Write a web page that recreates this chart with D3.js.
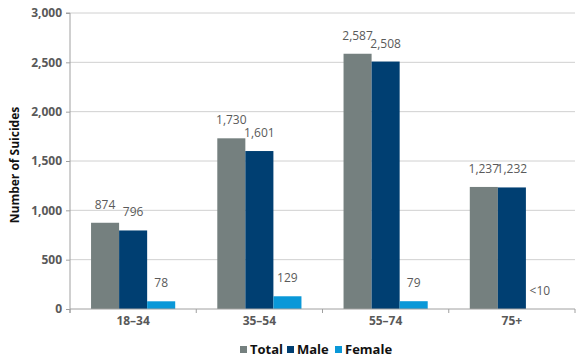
<!DOCTYPE html>
<html><head><meta charset="utf-8">
<script src="https://cdn.jsdelivr.net/npm/d3@7"></script>
<style>body{margin:0;background:#fff}svg{display:block}text{font-family:"Open Sans",sans-serif}</style>
</head><body>
<svg id="c" width="585" height="364"></svg>
<script>
const categories = ["18–34","35–54","55–74","75+"];
const seriesNames = ["Total","Male","Female"];
const totalValues = [874,1730,2587,1237];
const maleValues = [796,1601,2508,1232];
const femaleValues = [78,129,79,0];
const femaleLabels = ["78","129","79","<10"];
const yTicks = [0,500,1000,1500,2000,2500,3000];
const colors = ["#75807f","#003f72","#0a98d8"];

(function(){
const svg = d3.select("#c");
const mLeft = 70, mRight = 575, mTop = 13, mBottom = 309;
const y = d3.scaleLinear().domain([0,3000]).range([mBottom, mTop]);
const x0 = d3.scaleBand().domain(categories).range([mLeft,mRight]).paddingInner(1/3).paddingOuter(1/6);
const x1 = d3.scaleBand().domain(seriesNames).range([0,x0.bandwidth()]);
const color = d3.scaleOrdinal().domain(seriesNames).range(colors);

// gridlines
svg.append("g").selectAll("line").data(yTicks.filter(d=>d>0)).join("line")
  .attr("x1",mLeft).attr("x2",mRight).attr("y1",d=>y(d)).attr("y2",d=>y(d))
  .attr("stroke","#d0d0d0").attr("stroke-width",1);

// y axis
const yAxis = svg.append("g").attr("transform",`translate(${mLeft},0)`)
  .call(d3.axisLeft(y).tickValues(yTicks).tickFormat(d3.format(",")).tickSize(4).tickPadding(4));
yAxis.select(".domain").attr("stroke","#a0a0a0").attr("d",`M-4,${mTop}H0V${mBottom+4}`);
yAxis.selectAll(".tick line").attr("stroke","#a0a0a0");
yAxis.selectAll(".tick text").attr("fill","#595959").attr("font-weight","bold").attr("font-size","12px");

// bars
const rows = categories.map((c,i)=>({cat:c, vals:[
  {s:"Total",v:totalValues[i],l:d3.format(",")(totalValues[i])},
  {s:"Male",v:maleValues[i],l:d3.format(",")(maleValues[i])},
  {s:"Female",v:femaleValues[i],l:femaleLabels[i]}]}));
const g = svg.append("g").selectAll("g").data(rows).join("g")
  .attr("transform",d=>`translate(${x0(d.cat)},0)`);
g.selectAll("rect").data(d=>d.vals).join("rect")
  .attr("x",d=>x1(d.s)).attr("width",x1.bandwidth())
  .attr("y",d=>y(d.v)).attr("height",d=>y(0)-y(d.v))
  .attr("fill",d=>color(d.s));
g.selectAll("text").data(d=>d.vals).join("text")
  .attr("x",d=>x1(d.s)+x1.bandwidth()/2).attr("y",d=>y(d.v)-14)
  .attr("text-anchor","middle").attr("font-size","12px").attr("fill","#5a5a5a")
  .text(d=>d.l);

// x axis
const xa = svg.append("g");
xa.append("line").attr("x1",mLeft).attr("x2",mRight).attr("y1",mBottom).attr("y2",mBottom).attr("stroke","#a0a0a0");
const bounds = categories.map(c=>x0(c)-x0.step()*x0.paddingInner()/2).concat([mRight]);
xa.selectAll("line.t").data(bounds).join("line").attr("class","t")
  .attr("x1",d=>d).attr("x2",d=>d).attr("y1",mBottom).attr("y2",mBottom+4).attr("stroke","#a0a0a0");
xa.selectAll("text").data(categories).join("text")
  .attr("x",d=>x0(d)+x0.bandwidth()/2).attr("y",mBottom+16)
  .attr("text-anchor","middle").attr("font-weight","bold").attr("font-size","12px").attr("fill","#595959")
  .text(d=>d);

// y title
svg.append("text").attr("transform","translate(19,165) rotate(-90)")
  .attr("text-anchor","middle").attr("font-weight","bold").attr("font-size","12px").attr("fill","#111")
  .text("Number of Suicides");

// legend
const legX = [240,287,335];
const lg = svg.append("g").selectAll("g").data(seriesNames).join("g")
  .attr("transform",(d,i)=>`translate(${legX[i]},0)`);
lg.append("rect").attr("x",0).attr("y",346).attr("width",7).attr("height",7).attr("fill",d=>color(d));
lg.append("text").attr("x",10).attr("y",354).attr("font-weight","bold").attr("font-size","13px").attr("fill","#111").text(d=>d);
})();
</script>
</body></html>
